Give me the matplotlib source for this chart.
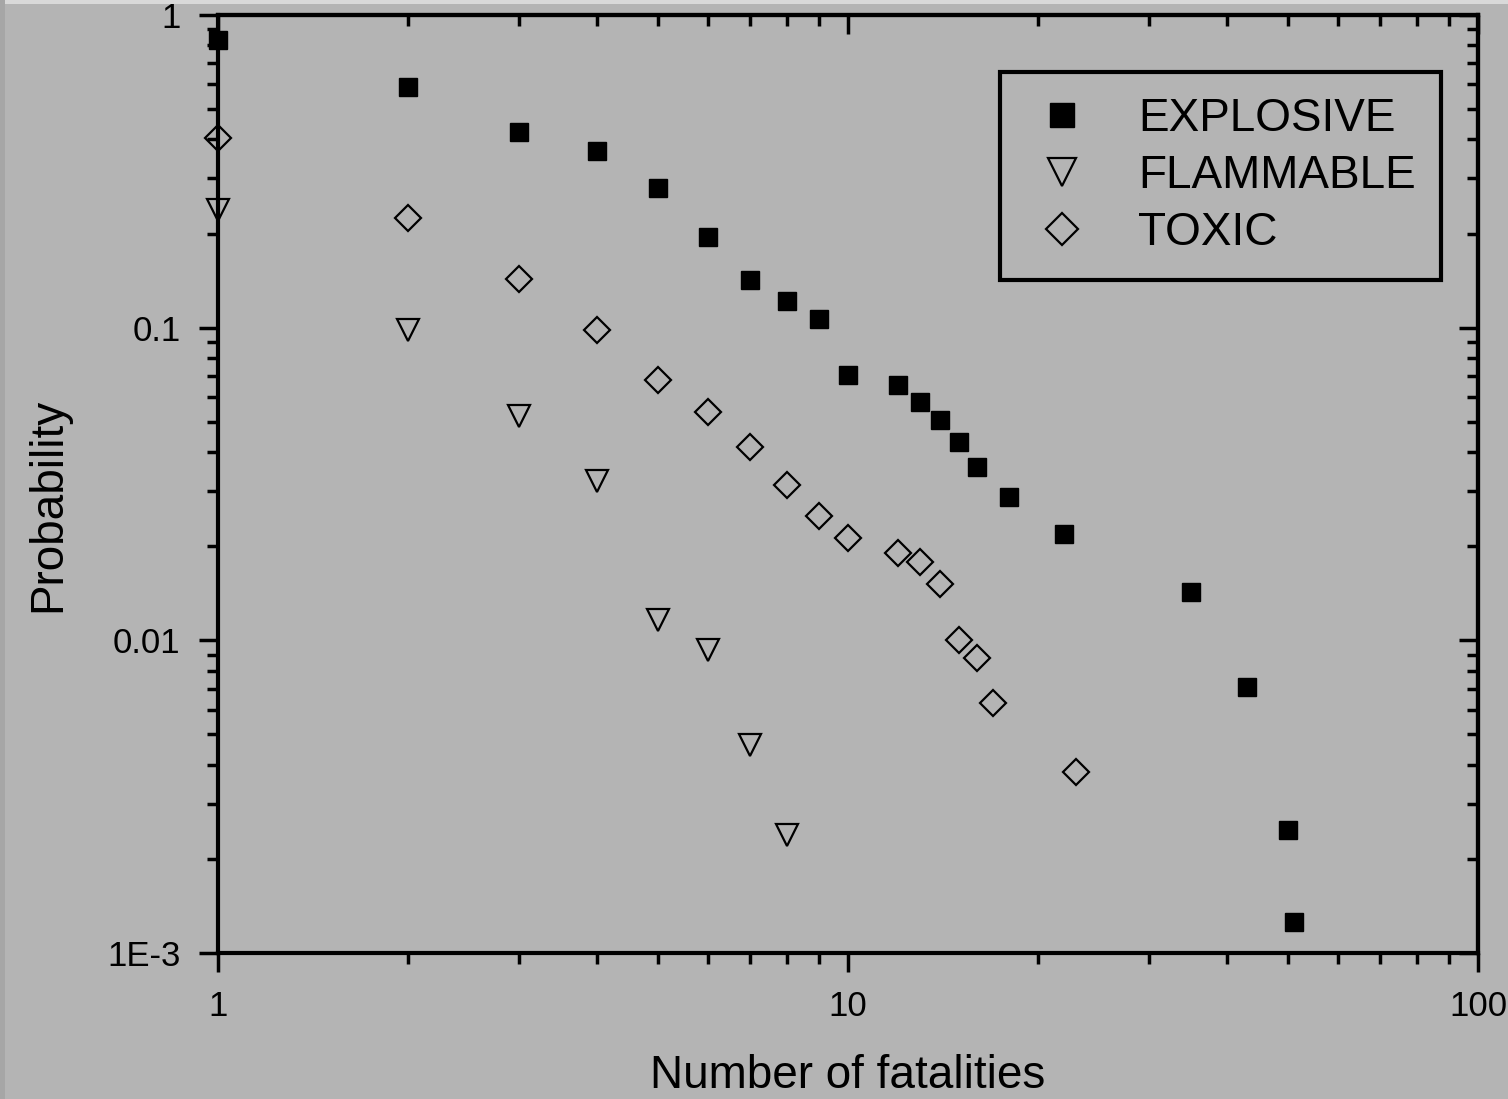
import matplotlib
matplotlib.use("Agg")
import matplotlib.pyplot as plt
from matplotlib.ticker import LogLocator, FixedLocator, NullFormatter, FixedFormatter
from matplotlib.patches import Rectangle

# ---- data ----
explosive_x = [1, 2, 3, 4, 5, 6, 7, 8, 9, 10, 12, 13, 14, 15, 16, 18, 22, 35, 43, 50, 51]
explosive_y = [0.832, 0.588, 0.422, 0.367, 0.280, 0.195, 0.142, 0.122, 0.1066, 0.0706,
               0.0656, 0.0579, 0.0507, 0.0431, 0.0358, 0.0287, 0.0219, 0.0143, 0.0071,
               0.00248, 0.00126]

flammable_x = [1, 2, 3, 4, 5, 6, 7, 8]
flammable_y = [0.238, 0.0984, 0.0522, 0.0323, 0.0116, 0.0093, 0.00463, 0.00239]

toxic_x = [1, 2, 3, 4, 5, 6, 7, 8, 9, 10, 12, 13, 14, 15, 16, 17, 23]
toxic_y = [0.404, 0.224, 0.143, 0.0984, 0.068, 0.0537, 0.0415, 0.0314, 0.025, 0.0213,
           0.019, 0.0178, 0.01515, 0.0100, 0.00879, 0.0063, 0.00379]

series_labels = ["EXPLOSIVE", "FLAMMABLE", "TOXIC"]
x_tick_labels = ["1", "10", "100"]
y_tick_labels = ["1E-3", "0.01", "0.1", "1"]
x_label = "Number of fatalities"
y_label = "Probability"

BG = "#b4b4b4"
plt.rcParams["font.family"] = ["Liberation Sans", "DejaVu Sans"]

fig = plt.figure(figsize=(15.08, 10.99), dpi=100, facecolor=BG)
# scan border strips
fig.patches.append(Rectangle((0, 0.996), 1, 0.004, transform=fig.transFigure,
                             facecolor="#d9d9d9", edgecolor="none", zorder=-1))
fig.patches.append(Rectangle((0, 0), 0.0035, 1, transform=fig.transFigure,
                             facecolor="#a6a6a6", edgecolor="none", zorder=-1))

ax = fig.add_axes([0.14456, 0.1329, 0.9801 - 0.14456, 0.98635 - 0.1329])
ax.set_facecolor(BG)
ax.set_xscale("log")
ax.set_yscale("log")
ax.set_xlim(1, 100)
ax.set_ylim(1e-3, 1)

ms_kw = dict(linestyle="none", clip_on=False)
ax.plot(explosive_x, explosive_y, marker="s", markersize=13.5, markerfacecolor="black",
        markeredgecolor="black", markeredgewidth=1.0, label=series_labels[0], **ms_kw)
ax.plot(flammable_x, flammable_y, marker="v", markersize=16, markerfacecolor="none",
        markeredgecolor="black", markeredgewidth=1.6, label=series_labels[1], **ms_kw)
ax.plot(toxic_x, toxic_y, marker="D", markersize=13, markerfacecolor="none",
        markeredgecolor="black", markeredgewidth=1.6, label=series_labels[2], **ms_kw)

for s in ax.spines.values():
    s.set_linewidth(3.0)
    s.set_color("black")

# ticks: left/bottom outward, top/right inward
ax.xaxis.set_major_locator(FixedLocator([1, 10, 100]))
ax.xaxis.set_major_formatter(FixedFormatter(x_tick_labels))
ax.xaxis.set_minor_locator(LogLocator(base=10, subs=range(2, 10), numticks=20))
ax.xaxis.set_minor_formatter(NullFormatter())
ax.yaxis.set_major_locator(FixedLocator([1e-3, 1e-2, 1e-1, 1]))
ax.yaxis.set_major_formatter(FixedFormatter(y_tick_labels))
ax.yaxis.set_minor_locator(LogLocator(base=10, subs=range(2, 10), numticks=20))
ax.yaxis.set_minor_formatter(NullFormatter())

ax.tick_params(which="both", left=True, bottom=True, top=False, right=False,
               direction="out", width=2.5, colors="black", labelsize=25)
ax.tick_params(which="major", length=14, pad=13)
ax.tick_params(which="minor", length=8)

axt = ax.secondary_xaxis("top")
axt.xaxis.set_major_locator(FixedLocator([1, 10, 100]))
axt.xaxis.set_minor_locator(LogLocator(base=10, subs=range(2, 10), numticks=20))
axt.tick_params(which="both", direction="in", width=2.5, labeltop=False)
axt.tick_params(which="major", length=14)
axt.tick_params(which="minor", length=8)
axt.spines["top"].set_linewidth(3.0)

axr = ax.secondary_yaxis("right")
axr.yaxis.set_major_locator(FixedLocator([1e-3, 1e-2, 1e-1, 1]))
axr.yaxis.set_minor_locator(LogLocator(base=10, subs=range(2, 10), numticks=20))
axr.tick_params(which="both", direction="in", width=2.5, labelright=False)
axr.tick_params(which="major", length=14)
axr.tick_params(which="minor", length=8)
axr.spines["right"].set_linewidth(3.0)

ax.set_xlabel(x_label, fontsize=33)
ax.set_ylabel(y_label, fontsize=33)
ax.xaxis.set_label_coords(0.5, -0.108)
ax.yaxis.set_label_coords(-0.117, 0.478)

leg = ax.legend(loc="upper left", bbox_to_anchor=(0.6206, 0.939), fontsize=33,
                frameon=True, fancybox=False, edgecolor="black", facecolor=BG,
                framealpha=1, borderpad=0.55, labelspacing=0.28, handlelength=1.6,
                handletextpad=0.86, borderaxespad=0, markerscale=1.25)
leg.get_frame().set_linewidth(3.0)

fig.savefig("out.png", dpi=100, facecolor=BG)
